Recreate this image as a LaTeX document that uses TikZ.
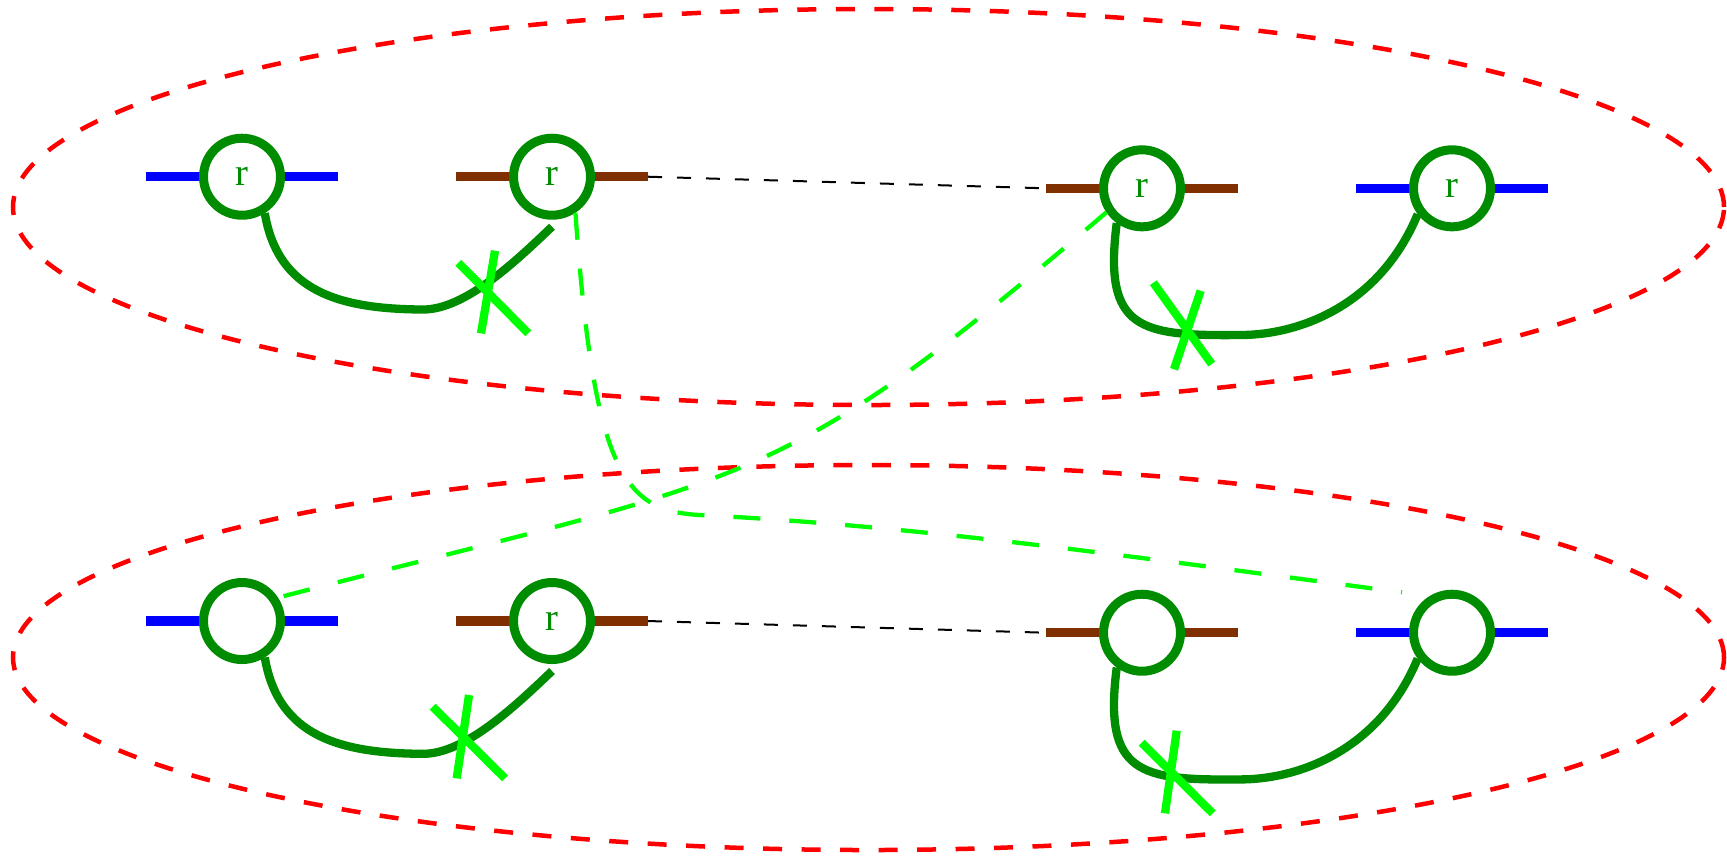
\documentclass[tikz,border=0pt]{standalone}
\usepackage{fontspec}
\setmainfont{Liberation Serif}
\usepackage{tikz}
\usepackage{xcolor}
\definecolor{ringgreen}{RGB}{0,140,0}
\definecolor{limegreen}{RGB}{0,255,0}
\definecolor{wirebrown}{RGB}{128,48,0}

\begin{document}
\begin{tikzpicture}[
		ring/.style={circle, draw=ringgreen, fill=white, line width=0.09cm, minimum size=0.77cm, inner sep=0pt, text=ringgreen, font=\fontsize{11}{13}\selectfont},
		wire/.style={line width=0.093cm},
		loopline/.style={ringgreen, line width=0.083cm},
		cut/.style={limegreen, line width=0.083cm},
		hint/.style={limegreen, line width=0.043cm, dash pattern=on 0.27cm off 0.29cm},
		link/.style={black, line width=0.02cm, dash pattern=on 0.14cm off 0.15cm},
		group/.style={red, line width=0.045cm, dash pattern=on 0.19cm off 0.195cm}]
		\useasboundingbox (0,0) rectangle (17.27,-8.56);
		\draw[group] (8.685,-2.07) ellipse [x radius=8.555, y radius=1.98];
		\draw[group] (8.685,-6.575) ellipse [x radius=8.555, y radius=1.925];
		\foreach \n/\x/\y/\c/\t in {c1/2.42/-1.767/blue/r, c2/5.52/-1.767/wirebrown/r, c3/11.42/-1.883/wirebrown/r, c4/14.52/-1.883/blue/r,
			d1/2.42/-6.21/blue/{}, d2/5.52/-6.21/wirebrown/r, d3/11.42/-6.327/wirebrown/{}, d4/14.52/-6.327/blue/{}}{
			\draw[wire, \c] (\x-0.96,\y) coordinate (w\n) -- (\x+0.96,\y) coordinate (e\n);
			\node[ring] (\n) at (\x,\y) {\t};
		}
		\draw[link] (ec2) -- (wc3);
		\draw[link] (ed2) -- (wd3);
		\coordinate (tip) at (14.02,-5.923);
		\draw[hint] (c2.-57) .. controls (5.94,-4.75) and (6.25,-5.11) .. (7.00,-5.15) .. controls (9.34,-5.267) and (11.68,-5.619) .. (tip);
		\draw[hint] (c3.-146) .. controls (7.73,-4.965) and (7.57,-4.732) .. (d1.33);
		\draw[loopline] (c1.-58) .. controls (2.78,-2.92) and (3.40,-3.09) .. (4.23,-3.095) .. controls (4.65,-3.095) and (5.15,-2.62) .. ([yshift=-0.07cm]c2.south);
		\draw[loopline] (d1.-58) .. controls (2.78,-7.363) and (3.40,-7.533) .. (4.23,-7.538) .. controls (4.65,-7.538) and (5.15,-7.063) .. ([yshift=-0.07cm]d2.south);
		\draw[loopline] (c3.-126) .. controls (11.03,-3.30) and (11.40,-3.36) .. (12.40,-3.35) .. controls (13.00,-3.35) and (13.80,-3.05) .. (c4.-143);
		\draw[loopline] (d3.-126) .. controls (11.03,-7.744) and (11.40,-7.804) .. (12.40,-7.794) .. controls (13.00,-7.794) and (13.80,-7.494) .. (d4.-143);
		\draw[cut] (4.583,-2.627) -- (5.283,-3.333);
		\draw[cut] (4.95,-2.507) -- (4.81,-3.333);
		\draw[cut] (11.533,-2.827) -- (12.117,-3.64);
		\draw[cut] (12.007,-2.907) -- (11.74,-3.693);
		\draw[cut] (4.327,-7.067) -- (5.05,-7.783);
		\draw[cut] (4.69,-6.95) -- (4.567,-7.783);
		\draw[cut] (11.417,-7.427) -- (12.127,-8.133);
		\draw[cut] (11.767,-7.307) -- (11.65,-8.133);
	\end{tikzpicture}
\end{document}
